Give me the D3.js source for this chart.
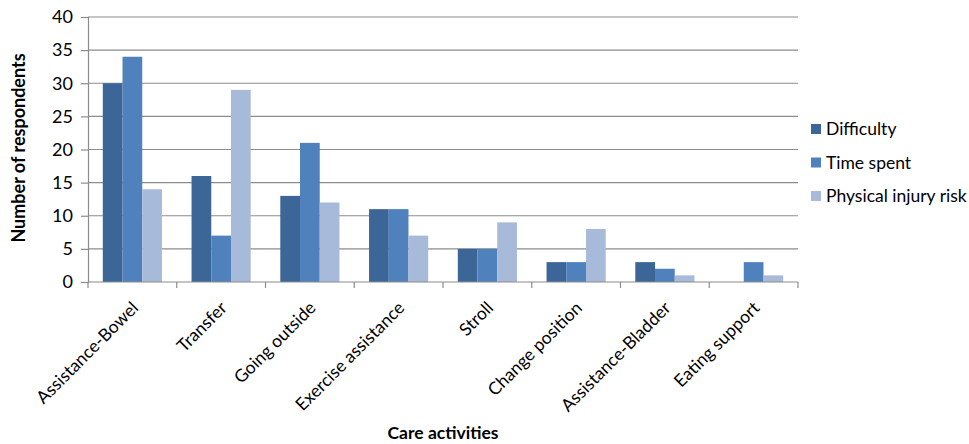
<!DOCTYPE html>
<html>
<head>
<meta charset="utf-8">
<script src="https://cdn.jsdelivr.net/npm/d3@7"></script>
<style>
  body { margin: 0; background: #fff; }
  text { font-family: Lato, "Open Sans", sans-serif; fill: #000; }
</style>
</head>
<body>
<svg width="969" height="444"></svg>
<script>
var categories = ["Assistance-Bowel", "Transfer", "Going outside", "Exercise assistance",
  "Stroll", "Change position", "Assistance-Bladder", "Eating support"];
var seriesNames = ["Difficulty", "Time spent", "Physical injury risk"];
var difficulty = [30, 16, 13, 11, 5, 3, 3, 0];
var timeSpent = [34, 7, 21, 11, 5, 3, 2, 3];
var injuryRisk = [14, 29, 12, 7, 9, 8, 1, 1];
var yTicks = [0, 5, 10, 15, 20, 25, 30, 35, 40];
var colors = ["#3D6698", "#4F81BD", "#A8BAD9"];

var series = [difficulty, timeSpent, injuryRisk];

var svg = d3.select("svg"),
  mLeft = 88,
  mRight = 798,
  mTop = 17,
  mBottom = 282;

var xScale = d3.scaleBand().domain(categories).range([mLeft, mRight]).padding(0);
var inner = d3.scaleBand().domain(seriesNames)
  .range([0, xScale.bandwidth()]).paddingOuter(0.75).paddingInner(0);
var yScale = d3.scaleLinear().domain([0, 40]).range([mBottom, mTop]);

// gridlines
svg.append("g")
  .selectAll("line")
  .data(yTicks.filter((v) => v > 0))
  .enter()
  .append("line")
  .attr("x1", mLeft)
  .attr("x2", mRight)
  .attr("y1", (d) => yScale(d))
  .attr("y2", (d) => yScale(d))
  .style("stroke", "#8c8c8c")
  .style("stroke-width", 1.2);

// bars
var groups = svg.append("g")
  .selectAll("g")
  .data(seriesNames)
  .enter()
  .append("g")
  .style("fill", (d, i) => colors[i]);

groups.selectAll("rect")
  .data((d, i) => categories.map((c, j) => ({ cat: c, s: d, v: series[i][j] })))
  .enter()
  .append("rect")
  .attr("x", (d) => xScale(d.cat) + inner(d.s))
  .attr("width", inner.bandwidth())
  .attr("y", (d) => yScale(d.v))
  .attr("height", (d) => yScale(0) - yScale(d.v));

// y axis
var yAxis = svg.append("g")
  .attr("transform", "translate(" + mLeft + ",0)")
  .call(d3.axisLeft(yScale).tickValues(yTicks).tickSize(7).tickPadding(8));
yAxis.select(".domain").style("stroke", "#8c8c8c").style("stroke-width", 1.2);
yAxis.selectAll(".tick line").style("stroke", "#8c8c8c").style("stroke-width", 1.2);
yAxis.selectAll("text").style("font-size", "18px").style("fill", "#000")
  .style("font-family", "Lato, sans-serif");

// x axis
var xAxis = svg.append("g")
  .attr("transform", "translate(0," + mBottom + ")");
xAxis.append("line")
  .attr("x1", mLeft).attr("x2", mRight)
  .style("stroke", "#8c8c8c").style("stroke-width", 1.2);
xAxis.selectAll(".tk")
  .data(categories.concat(["end"]))
  .enter()
  .append("line")
  .attr("x1", (d, i) => mLeft + i * xScale.step())
  .attr("x2", (d, i) => mLeft + i * xScale.step())
  .attr("y1", 0).attr("y2", 6)
  .style("stroke", "#8c8c8c").style("stroke-width", 1.2);

xAxis.selectAll(".lbl")
  .data(categories)
  .enter()
  .append("text")
  .attr("text-anchor", "end")
  .attr("transform", (d) => "translate(" + (xScale(d) + xScale.bandwidth() / 2 + 7) + ",27)rotate(-45)")
  .style("font-size", "17.5px")
  .text((d) => d);

// axis titles
svg.append("text")
  .attr("text-anchor", "middle")
  .attr("transform", "translate(25,148)rotate(-90)")
  .style("font-size", "18px")
  .style("font-weight", "bold")
  .text("Number of respondents");

svg.append("text")
  .attr("x", 443)
  .attr("y", 439)
  .attr("text-anchor", "middle")
  .style("font-size", "17.5px")
  .style("font-weight", "bold")
  .text("Care activities");

// legend
var legend = svg.append("g")
  .selectAll("g")
  .data(seriesNames)
  .enter()
  .append("g")
  .attr("transform", (d, i) => "translate(811," + (124 + i * 33.5) + ")");
legend.append("rect")
  .attr("width", 10).attr("height", 10)
  .style("fill", (d, i) => colors[i]);
legend.append("text")
  .attr("x", 15)
  .attr("y", 11)
  .style("font-size", "17.5px")
  .text((d) => d);
</script>
</body>
</html>
